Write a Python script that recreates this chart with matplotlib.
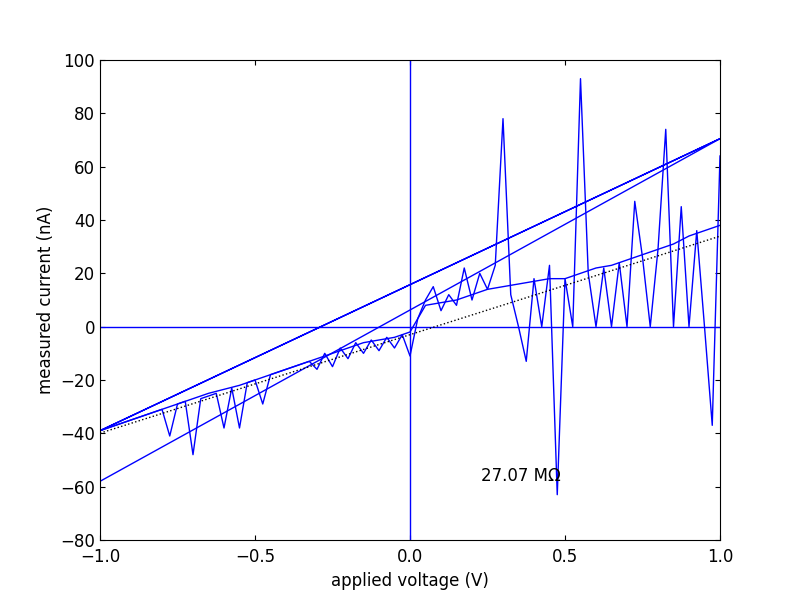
import matplotlib
matplotlib.use("Agg")
import matplotlib.pyplot as plt
import numpy as np

# smooth sweep, step 0.05 V
v_smooth = np.linspace(-1.0, 1.0, 41)
i_smooth = [-39, -37, -35, -33, -31, -29, -27, -25, -23.5, -22, -20, -18, -16, -14, -12,
            -10, -8, -6, -5, -4, -2, 8, 9, 10, 12, 14, 15, 16, 17, 18, 18, 20, 22, 23, 25,
            27, 29, 31, 34, 36, 38]

# noisy sweep, step 0.025 V
v_noisy = np.linspace(-1.0, 1.0, 81)
i_noisy = [-39, -38, -37, -36, -35, -34, -33, -32, -31, -41, -29, -28, -48, -27, -26, -25,
           -38, -23, -38, -21, -20, -29, -18, -17, -16, -15, -14, -13, -16, -10, -15, -8,
           -12, -6, -10, -5, -9, -4, -8, -3, -11, 3, 10, 15, 6, 12, 8, 22, 10, 20, 14, 23,
           78, 12, 0, -13, 18, 0, 23, -63, 18, 0, 93, 20, 0, 22, 0, 24, 0, 47, 26, 0, 29,
           74, 0, 45, 0, 36, 0, -37, 64]

# return segments of the sweep
v_return = [1.0, -1.0, 1.0, -1.0]
i_return = [70.5, -39, 70.5, -58]

resistance_mohm = 27.07
fit_offset = -3.0

fig = plt.figure(figsize=(8, 6), dpi=100)
ax = fig.add_axes([0.125, 0.1, 0.775, 0.8])
lw = 1.0
ax.plot(v_smooth, i_smooth, color="blue", lw=lw)
ax.plot(v_noisy, i_noisy, color="blue", lw=lw)
ax.plot(v_return, i_return, color="blue", lw=lw)
ax.axhline(0, color="blue", lw=lw)
ax.axvline(0, color="blue", lw=lw)
vf = np.array([-1.0, 1.0])
ax.plot(vf, 1000 / resistance_mohm * vf + fit_offset, color="black", linestyle=":", lw=lw)
ax.text(0.23, -58, f"{resistance_mohm:.2f} M\u03a9", fontsize=12)
ax.set_xlim(-1, 1)
ax.set_ylim(-80, 100)
ax.set_xticks([-1.0, -0.5, 0.0, 0.5, 1.0])
ax.set_xticklabels(["\u22121.0", "\u22120.5", "0.0", "0.5", "1.0"])
ax.set_yticks(range(-80, 101, 20))
ax.set_yticklabels([str(t).replace("-", "\u2212") for t in range(-80, 101, 20)])
ax.tick_params(labelsize=12, direction="in", top=True, right=True)
ax.tick_params(axis="x", pad=6)
ax.set_xlabel("applied voltage (V)", fontsize=12)
ax.set_ylabel("measured current (nA)", fontsize=12)
fig.savefig("out.png")
